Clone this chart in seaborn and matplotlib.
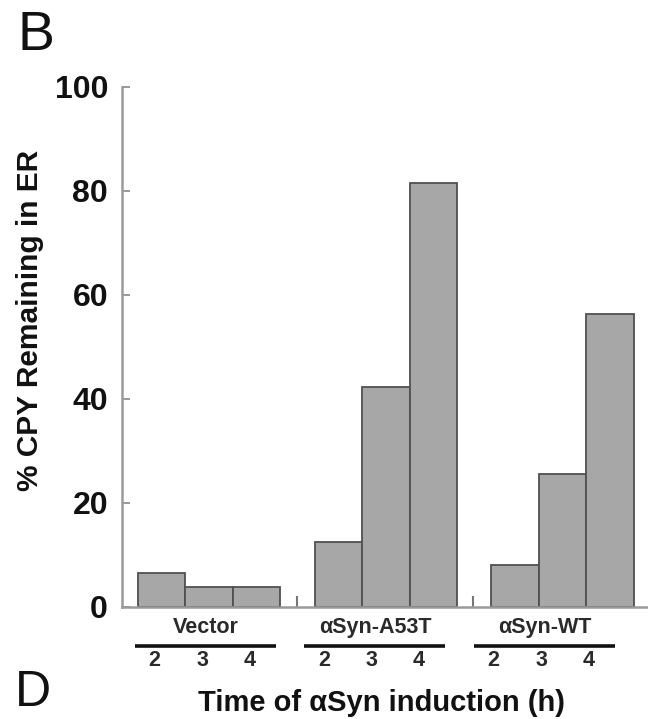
import matplotlib
matplotlib.use("Agg")
import matplotlib.pyplot as plt
import pandas as pd
import seaborn as sns

# valores (% CPY restante no RE)
tempos = ["2", "3", "4"]
cepas = ["Vector", "αSyn-A53T", "αSyn-WT"]
vector = [6.5, 3.8, 3.8]
syn_a53t = [12.5, 42.3, 81.5]
syn_wt = [8.1, 25.6, 56.3]
yticks = [0, 20, 40, 60, 80, 100]

sns.set_style("ticks")
plt.rcParams["font.family"] = ["Liberation Sans", "DejaVu Sans"]

# posicoes das barras: 3 barras coladas por grupo, grupos separados por um espaco
passo_grupo = 3.72
linhas = []
for g, (cepa, vals) in enumerate(zip(cepas, [vector, syn_a53t, syn_wt])):
    for i, (t, v) in enumerate(zip(tempos, vals)):
        linhas.append({"cepa": cepa, "tempo": t, "pos": g * passo_grupo + i, "valor": v})
dados = pd.DataFrame(linhas)

fig = plt.figure(figsize=(6.48, 7.19), dpi=100)
ax = fig.add_axes([122 / 648, 112 / 719, 526 / 648, 520 / 719])

sns.barplot(data=dados, x="pos", y="valor", native_scale=True, width=1.0,
            color="#a7a7a7", saturation=1, edgecolor="#505050", linewidth=1.3,
            errorbar=None, ax=ax)

ax.set_xlim(-0.837, 10.24)
ax.set_ylim(0, 100)
ax.set_yticks(yticks)
ax.set_yticklabels([str(y) for y in yticks], fontsize=23, fontweight="bold", color="#111111")
ax.tick_params(axis="y", direction="in", length=6, width=1.2, color="#888888", pad=10)

# pequenos tracos entre os grupos no eixo x
ax.set_xticks([2.85, 6.55])
ax.set_xticklabels([])
ax.tick_params(axis="x", direction="in", length=8, width=1.5, color="#777777")

for lado in ["top", "right"]:
    ax.spines[lado].set_visible(False)
for lado in ["left", "bottom"]:
    ax.spines[lado].set_color("#9a9a9a")
    ax.spines[lado].set_linewidth(1.8)

# rotulos de grupo, barra preta e tempos embaixo do eixo
passo_rotulo = 3.57
for g, cepa in enumerate(cepas):
    inicio = g * passo_rotulo - 0.15
    ax.text(inicio + 1.07, -4.0, cepa, ha="center", va="center", fontsize=15.5,
            fontweight="bold", color="#2a2a2a", clip_on=False)
    ax.plot([inicio - 0.42, inicio + 2.55], [-7.5, -7.5], color="#111111",
            lw=2.6, clip_on=False, solid_capstyle="butt")
    for i, t in enumerate(tempos):
        ax.text(inicio + i, -10.3, t, ha="center", va="center", fontsize=15.5,
                fontweight="bold", color="#2a2a2a", clip_on=False)

ax.set_xlabel("Time of αSyn induction (h)", fontsize=21, fontweight="bold", color="#111111")
ax.xaxis.set_label_coords(0.494, -0.158)
ax.set_ylabel("% CPY Remaining in ER", fontsize=21.5, fontweight="bold", color="#111111")
ax.yaxis.set_label_coords(-0.148, 0.552)

fig.text(17 / 648, 1 - 10 / 719, "B", fontsize=40, va="top", ha="left", color="#111111")
fig.text(15 / 648, 3 / 719, "D", fontsize=36, va="bottom", ha="left", color="#111111")

fig.savefig("out.png", dpi=100)
